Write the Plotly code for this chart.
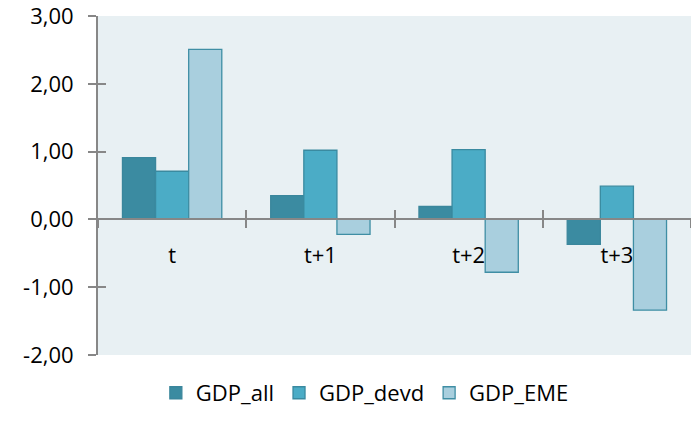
import plotly.graph_objects as go

categories = ["t", "t+1", "t+2", "t+3"]
gdp_all = [0.91, 0.35, 0.19, -0.37]
gdp_devd = [0.71, 1.02, 1.03, 0.49]
gdp_eme = [2.51, -0.22, -0.78, -1.34]
y_ticks = [-2, -1, 0, 1, 2, 3]
y_tick_text = [("%.2f" % v).replace(".", ",") for v in y_ticks]

series = [
    ("GDP_all", gdp_all, "#3B8BA1", "#3A869C"),
    ("GDP_devd", gdp_devd, "#4BACC6", "#3A8AA0"),
    ("GDP_EME", gdp_eme, "#A9CFDE", "#3F8EA4"),
]

FONT = "Open Sans"
GRAY = "#878787"

fig = go.Figure()
for name, vals, fill, line in series:
    fig.add_trace(go.Bar(
        x=categories, y=vals, name=name,
        marker=dict(color=fill, line=dict(color=line, width=1.3)),
        xaxis="x", yaxis="y",
    ))

# dummy trace so overlay axes (for crossing tick marks) are drawn
fig.add_trace(go.Scatter(x=categories, y=[None] * len(categories),
                         xaxis="x2", yaxis="y2", showlegend=False,
                         hoverinfo="skip", mode="markers"))

y_range = [y_ticks[0] - 0.001, y_ticks[-1] + 0.001]
zero_pos = (0 - y_range[0]) / (y_range[1] - y_range[0])

fig.update_layout(
    width=691, height=423,
    margin=dict(l=98, r=0, t=16, b=68, autoexpand=False),
    paper_bgcolor="white",
    plot_bgcolor="#E8F0F3",
    barmode="group",
    bargap=0.33,
    bargroupgap=0,
    font=dict(family=FONT, size=22, color="black"),
    showlegend=True,
    legend=dict(orientation="h", x=0.45, xanchor="center",
                y=-0.112, yanchor="middle",
                font=dict(family=FONT, size=22, color="black"),
                traceorder="normal", itemwidth=30),
    xaxis=dict(
        type="category", anchor="free", position=zero_pos,
        range=[-0.5, 3.5], automargin=False,
        showline=False, showgrid=False, zeroline=False,
        ticks="outside", ticklen=8, tickwidth=2, tickcolor=GRAY,
        tickson="boundaries",
        ticklabelstandoff=21,
        tickfont=dict(family=FONT, size=22, color="black"),
        layer="below traces",
    ),
    xaxis2=dict(
        type="category", anchor="free", position=zero_pos,
        overlaying="x", range=[-0.5, 3.5], automargin=False,
        showline=True, linecolor=GRAY, linewidth=2,
        showgrid=False, zeroline=False,
        ticks="inside", ticklen=8, tickwidth=2, tickcolor=GRAY,
        tickson="boundaries", showticklabels=False,
        layer="above traces",
    ),
    yaxis=dict(
        range=y_range, automargin=False,
        tickmode="array", tickvals=y_ticks, ticktext=y_tick_text,
        ticklabeloverflow="allow",
        ticklabelstandoff=10,
        showline=True, linecolor=GRAY, linewidth=2,
        showgrid=False, zeroline=False,
        ticks="outside", ticklen=8, tickwidth=2, tickcolor=GRAY,
        tickfont=dict(family=FONT, size=22, color="black"),
    ),
    yaxis2=dict(
        overlaying="y", anchor="x2", side="left",
        range=y_range, automargin=False,
        tickmode="array", tickvals=y_ticks,
        showline=False, showgrid=False, zeroline=False,
        ticks="inside", ticklen=8, tickwidth=2, tickcolor=GRAY,
        showticklabels=False,
    ),
)

fig.write_html("out.html",
               config={"displayModeBar": False},
               post_script="document.body.style.margin='0';document.body.style.overflow='hidden';")
